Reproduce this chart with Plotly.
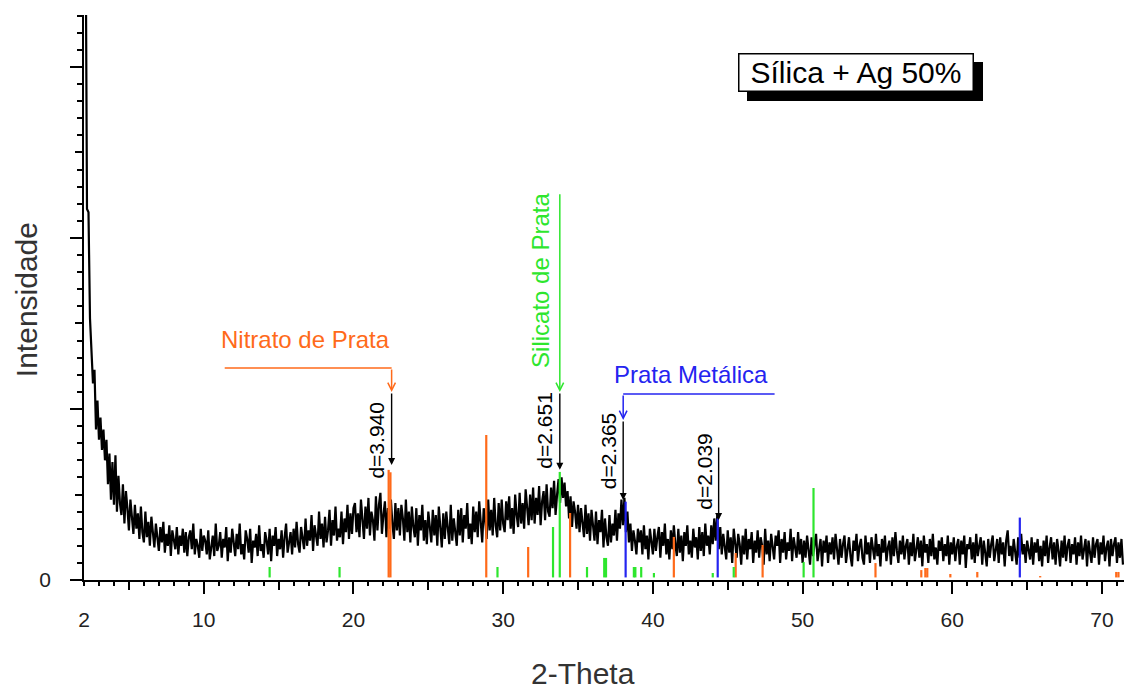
import math
import plotly.graph_objects as go

# ---------------- data ----------------
two_theta_start = 2.0
two_theta_step = 0.1

I_02_10 = [4200, 4000, 2170, 2150, 1530, 1300, 1150, 1230, 880, 1050, 820,
           950, 760, 880, 700, 820, 560, 740, 470, 690, 440,
           730, 400, 610, 450, 380, 560, 330, 520, 420, 290,
           470, 340, 270, 440, 300, 390, 240, 430, 280, 220,
           400, 250, 340, 200, 370, 280, 190, 330, 240, 170,
           310, 220, 340, 160, 270, 200, 320, 140, 290, 230,
           180, 310, 150, 260, 200, 300, 160, 280, 140, 250,
           290, 180, 330, 150, 240, 200, 130, 300, 170, 260]
I_10_20 = [230, 150, 290, 120, 210, 260, 140, 330, 170, 200,
           280, 130, 240, 190, 310, 110, 250, 160, 300, 220,
           140, 270, 180, 330, 150, 210, 120, 290, 240, 160,
           300, 100, 230, 190, 270, 140, 320, 170, 210, 130,
           280, 230, 150, 300, 110, 260, 200, 310, 140, 240,
           180, 290, 130, 250, 330, 160, 220, 280, 150, 300,
           190, 340, 210, 160, 310, 250, 180, 360, 200, 290,
           230, 380, 170, 320, 260, 200, 400, 240, 330, 190,
           370, 220, 290, 410, 200, 350, 260, 430, 230, 300,
           250, 400, 210, 360, 280, 440, 240, 390, 270, 420]
I_20_30 = [450, 280, 390, 250, 470, 320, 240, 430, 300, 480,
           260, 400, 350, 230, 490, 290, 440, 510, 270, 380,
           460, 250, 420, 300, 470, 330, 240, 450, 290, 420,
           260, 440, 360, 230, 470, 280, 400, 220, 430, 310,
           250, 420, 200, 380, 290, 440, 230, 350, 210, 400,
           300, 220, 410, 260, 380, 200, 430, 270, 190, 390,
           240, 400, 310, 210, 440, 230, 360, 280, 200, 410,
           260, 420, 220, 380, 300, 450, 240, 330, 210, 430,
           280, 400, 250, 460, 300, 220, 420, 350, 240, 470,
           290, 410, 260, 480, 320, 250, 450, 290, 470, 330]
I_30_40 = [280, 460, 350, 490, 300, 420, 270, 500, 380, 310,
           510, 330, 450, 300, 530, 390, 320, 500, 350, 540,
           330, 480, 380, 550, 320, 460, 520, 350, 560, 400,
           370, 540, 420, 580, 380, 500, 590, 450, 600, 480,
           570, 430, 520, 360, 490, 310, 460, 400, 300, 440,
           280, 420, 350, 250, 440, 270, 390, 230, 410, 300,
           230, 400, 210, 350, 280, 410, 190, 360, 250, 200,
           380, 220, 330, 260, 410, 230, 390, 300, 470, 320,
           480, 280, 400, 220, 330, 170, 290, 230, 150, 300,
           220, 290, 150, 320, 180, 260, 120, 300, 200, 150]
I_40_50 = [300, 170, 250, 310, 130, 280, 200, 330, 150, 240,
           120, 290, 180, 320, 210, 140, 300, 160, 260, 110,
           280, 200, 320, 150, 230, 130, 300, 190, 250, 120,
           310, 170, 280, 140, 330, 200, 260, 150, 320, 210,
           360, 230, 380, 180, 310, 150, 270, 200, 120, 290,
           160, 250, 100, 300, 190, 130, 270, 210, 90, 260,
           150, 300, 120, 240, 180, 280, 100, 230, 160, 290,
           130, 250, 200, 90, 300, 150, 230, 110, 270, 180,
           120, 260, 200, 290, 100, 240, 160, 280, 120, 220,
           170, 300, 110, 250, 190, 130, 280, 150, 240, 100]
I_50_60 = [230, 130, 260, 170, 90, 250, 140, 210, 270, 110,
           190, 240, 80, 230, 160, 260, 100, 220, 150, 250,
           120, 270, 180, 90, 240, 130, 210, 260, 100, 190,
           250, 140, 80, 230, 170, 270, 110, 200, 240, 130,
           90, 260, 150, 220, 100, 250, 180, 120, 270, 140,
           210, 80, 240, 160, 260, 110, 190, 230, 90, 250,
           140, 280, 170, 100, 230, 150, 260, 120, 200, 240,
           90, 220, 140, 270, 110, 180, 250, 130, 230, 80,
           260, 160, 210, 100, 240, 140, 270, 120, 190, 90,
           230, 170, 250, 110, 210, 140, 260, 90, 220, 150]
I_60_71 = [250, 110, 200, 240, 90, 230, 150, 260, 70, 210,
           180, 250, 120, 220, 100, 270, 140, 200, 250, 90,
           230, 160, 80, 240, 130, 210, 260, 110, 190, 240,
           100, 250, 150, 220, 80, 230, 290, 140, 200, 110,
           240, 170, 90, 250, 130, 270, 150, 210, 100, 230,
           180, 120, 250, 90, 220, 160, 240, 110, 200, 80,
           230, 140, 260, 100, 190, 250, 120, 220, 90, 240,
           170, 80, 230, 130, 260, 110, 200, 240, 100, 210,
           150, 250, 90, 220, 140, 260, 120, 190, 240, 80,
           230, 160, 100, 250, 130, 210, 240, 90, 220, 150,
           260, 110, 190, 230, 80, 240, 140, 210, 250, 100,
           220, 130, 240, 90]

# reference patterns (stick positions, 2-theta, and heights, counts)
nitrato_pos = [22.35, 22.47, 28.87, 31.67, 34.47, 41.40, 45.53, 47.33, 54.87,
               57.93, 58.20, 58.33, 59.87, 61.67, 65.87, 70.95, 71.10]
nitrato_int = [644, 630, 848, 193, 392, 252, 158, 205, 99,
               58, 70, 70, 35, 47, 23, 47, 47]
silicato_pos = [14.40, 19.07, 29.62, 33.33, 33.78, 35.60, 36.75, 36.87,
                38.73, 38.83, 39.22, 40.07, 44.00, 45.40, 50.07, 50.73]
silicato_int = [76, 76, 76, 310, 632, 76, 129, 129,
                76, 76, 76, 41, 41, 76, 105, 538]
prata_pos = [38.18, 44.33, 64.51]
prata_int = [458, 360, 365]

# d-spacings marked on the pattern and the height of their arrow tips
d_values = [3.940, 2.651, 2.365, 2.039]
d_tips = [673, 644, 468, 351]
d_tails = [1100, 1100, 936, 784]
d_label_y = [819, 878, 754, 637]
wavelength = 1.5406  # Cu K-alpha

x_tick_vals = [2, 10, 20, 30, 40, 50, 60, 70]
x_tick_text = ["2", "10", "20", "30", "40", "50", "60", "70"]
y_tick_vals = [0, 1000, 2000, 3000]
y_tick_text = ["0", "", "", ""]

X_RANGE = [2, 71.47]
Y_RANGE = [0, 3304]

# ---------------- build ----------------
intensity = I_02_10 + I_10_20 + I_20_30 + I_30_40 + I_40_50 + I_50_60 + I_60_71
two_theta = [round(two_theta_start + two_theta_step * i, 2) for i in range(len(intensity))]


def sticks(pos, h, base=15):
    xs, ys = [], []
    for p, v in zip(pos, h):
        xs += [p, p, None]
        ys += [base, v, None]
    return xs, ys


ORANGE = "#FF6A1A"
GREEN = "#2EE62E"
BLUE = "#2424F0"

fig = go.Figure()
fig.add_trace(go.Scatter(x=two_theta, y=intensity, mode="lines",
                         line=dict(color="black", width=2.2), hoverinfo="skip"))
for pos, h, col in [(nitrato_pos, nitrato_int, ORANGE),
                    (silicato_pos, silicato_int, GREEN),
                    (prata_pos, prata_int, BLUE)]:
    sx, sy = sticks(pos, h)
    fig.add_trace(go.Scatter(x=sx, y=sy, mode="lines",
                             line=dict(color=col, width=2.2), hoverinfo="skip"))

# dummy traces to carry the overlay tick axes
fig.add_trace(go.Scatter(x=[None], y=[None], xaxis="x2", yaxis="y", showlegend=False))
fig.add_trace(go.Scatter(x=[None], y=[None], xaxis="x3", yaxis="y", showlegend=False))
fig.add_trace(go.Scatter(x=[None], y=[None], xaxis="x", yaxis="y2", showlegend=False))

d_pos = [2 * math.degrees(math.asin(wavelength / (2 * d))) for d in d_values]

ann = []
shapes = []
# sample label box with drop shadow
for txt, bg, dx, dy in [(" ", "black", 9, -9), ("Sílica + Ag 50%", "white", 0, 0)]:
    ann.append(dict(text=txt, xref="paper", yref="paper", x=0.742, y=0.898,
                    xanchor="center", yanchor="middle",
                    showarrow=False, font=dict(size=30, color="black"),
                    bgcolor=bg, bordercolor="black", borderwidth=1.5, borderpad=1,
                    width=231, height=34, xshift=dx, yshift=dy))

# black arrows and d labels
for xp, tip, tail, ly, d in zip(d_pos, d_tips, d_tails, d_label_y, d_values):
    ann.append(dict(x=xp, y=tip, ax=xp, ay=tail, xref="x", yref="y", axref="x", ayref="y",
                    text="", showarrow=True, arrowhead=2, arrowsize=1, arrowwidth=1.4,
                    arrowcolor="black", standoff=0, startstandoff=0))
    ann.append(dict(x=xp, y=ly, xref="x", yref="y", text=f"d={d:.3f}", textangle=-90,
                    showarrow=False, xshift=-15, font=dict(size=21, color="black")))

# phase connectors
ann.append(dict(x=d_pos[0], y=1100, ax=d_pos[0], ay=1240, xref="x", yref="y", axref="x", ayref="y",
                text="", showarrow=True, arrowhead=5, arrowsize=1, arrowwidth=1.5,
                arrowcolor=ORANGE, standoff=0, startstandoff=0))
shapes.append(dict(type="line", xref="x", yref="y", x0=11.4, x1=d_pos[0], y0=1240, y1=1240,
                   line=dict(color=ORANGE, width=1.5)))
ann.append(dict(x=d_pos[1], y=1100, ax=d_pos[1], ay=2264, xref="x", yref="y", axref="x", ayref="y",
                text="", showarrow=True, arrowhead=5, arrowsize=1, arrowwidth=1.5,
                arrowcolor=GREEN, standoff=0, startstandoff=0))
ann.append(dict(x=d_pos[2], y=936, ax=d_pos[2], ay=1088, xref="x", yref="y", axref="x", ayref="y",
                text="", showarrow=True, arrowhead=5, arrowsize=1, arrowwidth=1.5,
                arrowcolor=BLUE, standoff=0, startstandoff=0))
shapes.append(dict(type="line", xref="x", yref="y", x0=d_pos[2], x1=48.13, y0=1088, y1=1088,
                   line=dict(color=BLUE, width=1.5)))

ann.append(dict(x=16.8, y=1404, xref="x", yref="y", text="Nitrato de Prata", showarrow=False,
                font=dict(size=24, color=ORANGE)))
ann.append(dict(x=32.53, y=1749, xref="x", yref="y", text="Silicato de Prata", showarrow=False,
                textangle=-90, font=dict(size=24, color=GREEN)))
ann.append(dict(x=42.57, y=1199, xref="x", yref="y", text="Prata Metálica", showarrow=False,
                font=dict(size=24, color=BLUE)))

# axis titles
ann.append(dict(x=0.48, y=-0.165, xref="paper", yref="paper", text="2-Theta", showarrow=False,
                xanchor="center", yanchor="middle", font=dict(size=30, color="#333333")))
ann.append(dict(x=-0.0558, y=0.497, xref="paper", yref="paper", text="Intensidade", showarrow=False,
                xanchor="center", yanchor="middle", textangle=-90,
                font=dict(size=30, color="#333333")))

tick_common = dict(showgrid=False, zeroline=False)
fig.update_layout(
    width=1124, height=689,
    margin=dict(l=84, r=0, t=15, b=109, pad=0),
    paper_bgcolor="white", plot_bgcolor="white",
    showlegend=False,
    font=dict(family="Liberation Sans, Arial, sans-serif", color="#222222"),
    xaxis=dict(range=X_RANGE, tickmode="array", tickvals=x_tick_vals, ticktext=x_tick_text,
               ticks="", showline=True, linecolor="black", linewidth=1.5,
               tickfont=dict(size=21, color="#222222"), ticklabelstandoff=20, **tick_common),
    xaxis2=dict(range=X_RANGE, overlaying="x", anchor="y", side="bottom",
                tickmode="linear", tick0=0, dtick=10, ticks="outside", ticklen=13, tickwidth=1.5,
                tickcolor="black", showticklabels=False, showline=False,
                minor=dict(tickmode="linear", tick0=0, dtick=1, ticks="outside", ticklen=5,
                           tickwidth=1.5, tickcolor="black", showgrid=False),
                **tick_common),
    xaxis3=dict(range=X_RANGE, overlaying="x", anchor="y", side="bottom",
                tickmode="linear", tick0=5, dtick=10, ticks="outside", ticklen=9, tickwidth=1.5,
                tickcolor="black", showticklabels=False, showline=False, **tick_common),
    yaxis=dict(range=Y_RANGE, tickmode="array", tickvals=y_tick_vals, ticktext=y_tick_text,
               ticks="outside", ticklen=12, tickwidth=1.5, tickcolor="black",
               showline=True, linecolor="black", linewidth=1.5,
               tickfont=dict(size=21, color="#222222"), ticklabelstandoff=15,
               minor=dict(tickmode="linear", tick0=0, dtick=100, ticks="outside", ticklen=5,
                          tickwidth=1.5, tickcolor="black", showgrid=False),
               **tick_common),
    yaxis2=dict(range=Y_RANGE, overlaying="y", anchor="x", side="left",
                tickmode="linear", tick0=500, dtick=1000, ticks="outside", ticklen=8, tickwidth=1.5,
                tickcolor="black", showticklabels=False, showline=False, **tick_common),
    annotations=ann,
    shapes=shapes,
)

fig.write_html("out.html")
